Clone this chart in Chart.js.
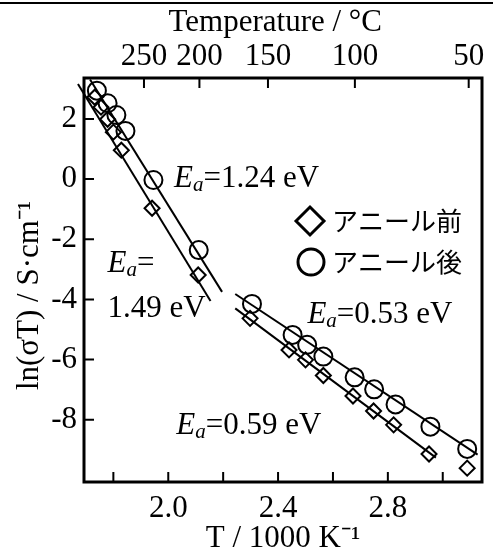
<!DOCTYPE html>
<html>
<head>
<meta charset="utf-8">
<script src="https://cdn.jsdelivr.net/npm/chart.js@4.4.0/dist/chart.umd.min.js"></script>
<style>
html, body { margin: 0; padding: 0; background: #fff; }
#wrap { width: 493px; height: 551px; }
</style>
</head>
<body>
<div id="wrap"><canvas id="arrhenius"></canvas></div>
<script>
// アニール前 (diamonds)
const beforeX = [1.732, 1.755, 1.779, 1.800, 1.829, 1.941, 2.109, 2.298, 2.440, 2.500, 2.565, 2.673, 2.748, 2.821, 2.950, 3.089];
const beforeY = [2.72, 2.39, 1.99, 1.56, 0.96, -0.97, -3.19, -4.63, -5.68, -6.01, -6.53, -7.21, -7.71, -8.17, -9.14, -9.61];
// アニール後 (circles)
const afterX = [1.740, 1.779, 1.811, 1.844, 1.946, 2.111, 2.305, 2.453, 2.506, 2.565, 2.679, 2.750, 2.828, 2.955, 3.089];
const afterY = [2.94, 2.52, 2.13, 1.60, -0.03, -2.36, -4.15, -5.18, -5.51, -5.90, -6.59, -6.99, -7.49, -8.23, -8.97];

// fitted lines (end points)
const fitAfterHighX = [1.715, 2.196], fitAfterHighY = [3.31, -3.75];
const fitBeforeHighX = [1.671, 2.154], fitBeforeHighY = [3.16, -4.05];
const fitAfterLowX = [2.244, 3.127], fitAfterLowY = [-3.82, -9.16];
const fitBeforeLowX = [2.244, 2.975], fitBeforeLowY = [-4.30, -9.26];

const xTicks = [1.8, 2.0, 2.2, 2.4, 2.6, 2.8, 3.0];
const xTickLabels = ['2.0', '2.4', '2.8'];
const yTicks = [2, 0, -2, -4, -6, -8];
const tempTicks = [250, 200, 150, 100, 50]; // °C on top axis

const SERIF = '"Liberation Serif", "Times New Roman", serif';
Chart.defaults.font.family = SERIF;
Chart.defaults.font.size = 31;
Chart.defaults.color = '#000';

const pts = (xs, ys) => xs.map((x, i) => ({ x: x, y: ys[i] }));

function fitLine(xs, ys) {
  return {
    data: pts(xs, ys), showLine: true, pointRadius: 0, borderColor: '#000',
    borderWidth: 2, clip: false, order: 2
  };
}

// E_a labels
const notes = [
  { x: 2.021, y: -0.27, text: '=1.24 eV' },
  { x: 1.779, y: -3.09, text: '=' },
  { x: 1.779, y: -4.58, text: '1.49 eV', plain: true },
  { x: 2.507, y: -4.78, text: '=0.53 eV' },
  { x: 2.029, y: -8.47, text: '=0.59 eV' }
];

const decor = {
  id: 'decor',
  afterDraw(chart) {
    const ctx = chart.ctx, a = chart.chartArea;
    const sx = chart.scales.x, sy = chart.scales.y, st = chart.scales.x2;
    ctx.save();
    ctx.strokeStyle = '#000';
    ctx.fillStyle = '#000';
    // rule at the very top
    ctx.lineWidth = 2;
    ctx.beginPath(); ctx.moveTo(0, 3); ctx.lineTo(chart.width, 3); ctx.stroke();
    // inward ticks
    ctx.beginPath();
    sx.ticks.forEach(t => { const p = sx.getPixelForValue(t.value); ctx.moveTo(p, a.bottom); ctx.lineTo(p, a.bottom - 10); });
    st.ticks.forEach(t => { const p = st.getPixelForValue(t.value); ctx.moveTo(p, a.top); ctx.lineTo(p, a.top + 10); });
    sy.ticks.forEach(t => { const p = sy.getPixelForValue(t.value); ctx.moveTo(a.left, p); ctx.lineTo(a.left + 10, p); });
    ctx.stroke();
    // frame
    ctx.lineWidth = 3;
    ctx.strokeRect(a.left, a.top, a.right - a.left, a.bottom - a.top);
    // annotations
    ctx.textBaseline = 'alphabetic';
    notes.forEach(n => {
      let px = sx.getPixelForValue(n.x);
      const py = sy.getPixelForValue(n.y);
      if (!n.plain) {
        ctx.font = 'italic 31px ' + SERIF;
        ctx.fillText('E', px, py);
        px += ctx.measureText('E').width;
        ctx.font = 'italic 21px ' + SERIF;
        ctx.fillText('a', px, py + 4);
        px += ctx.measureText('a').width;
      }
      ctx.font = '31px ' + SERIF;
      ctx.fillText(n.text, px, py);
    });
    // legend
    ctx.lineWidth = 3;
    ctx.beginPath();
    ctx.moveTo(296, 221); ctx.lineTo(310, 207); ctx.lineTo(324, 221); ctx.lineTo(310, 235); ctx.closePath();
    ctx.stroke();
    ctx.beginPath(); ctx.arc(311, 262, 13, 0, Math.PI * 2); ctx.stroke();
    ctx.font = '26px "Noto Sans CJK JP", sans-serif';
    ctx.textBaseline = 'middle';
    ctx.fillText('アニール前', 332, 221);
    ctx.fillText('アニール後', 332, 262);
    ctx.restore();
  }
};

new Chart(document.getElementById('arrhenius'), {
  type: 'scatter',
  data: {
    datasets: [
      { label: 'アニール前', data: pts(beforeX, beforeY), pointStyle: 'rectRot', pointRadius: 7.5,
        borderColor: '#000', borderWidth: 2, backgroundColor: 'rgba(0,0,0,0)', clip: false, order: 1 },
      { label: 'アニール後', data: pts(afterX, afterY), pointStyle: 'circle', pointRadius: 9,
        borderColor: '#000', borderWidth: 2, backgroundColor: 'rgba(0,0,0,0)', clip: false, order: 1 },
      fitLine(fitAfterHighX, fitAfterHighY),
      fitLine(fitBeforeHighX, fitBeforeHighY),
      fitLine(fitAfterLowX, fitAfterLowY),
      fitLine(fitBeforeLowX, fitBeforeLowY)
    ]
  },
  options: {
    responsive: true,
    maintainAspectRatio: false,
    animation: false,
    layout: { padding: { left: 0, right: 3, top: 0, bottom: 0 } },
    plugins: { legend: { display: false }, tooltip: { enabled: false } },
    scales: {
      x: {
        type: 'linear', position: 'bottom', min: 1.693, max: 3.143,
        grid: { display: false, drawTicks: false }, border: { display: false },
        afterBuildTicks: s => { s.ticks = xTicks.map(v => ({ value: v })); },
        afterFit: s => { s.height = 69; },
        ticks: {
          padding: 8, maxRotation: 0, autoSkip: false,
          callback: v => { const t = Number(v).toFixed(1); return xTickLabels.includes(t) ? t : ''; }
        },
        title: { display: true, text: 'T / 1000 K⁻¹', font: { size: 31, lineHeight: 0.8 }, padding: 0 }
      },
      x2: {
        type: 'linear', axis: 'x', position: 'top', min: 1.693, max: 3.143,
        grid: { display: false, drawTicks: false }, border: { display: false },
        afterBuildTicks: s => { s.ticks = tempTicks.map(t => ({ value: 1000 / (t + 273.15) })); },
        afterFit: s => { s.height = 78; },
        ticks: { padding: 3, maxRotation: 0, autoSkip: false, callback: (v, i) => String(tempTicks[i]) },
        title: { display: true, text: 'Temperature / °C\u2002', font: { size: 31, lineHeight: 1 }, padding: { top: 7, bottom: 0 } }
      },
      y: {
        type: 'linear', position: 'left', min: -10.07, max: 3.36,
        grid: { display: false, drawTicks: false }, border: { display: false },
        afterBuildTicks: s => { s.ticks = yTicks.map(v => ({ value: v })); },
        afterFit: s => { s.width = 84; },
        ticks: { padding: 7, callback: v => String(v) },
        title: { display: true, text: 'ln(σT) / S·cm⁻¹\u2003', font: { size: 31 }, padding: { top: 11, bottom: 0 } }
      }
    }
  },
  plugins: [decor]
});
</script>
</body>
</html>
